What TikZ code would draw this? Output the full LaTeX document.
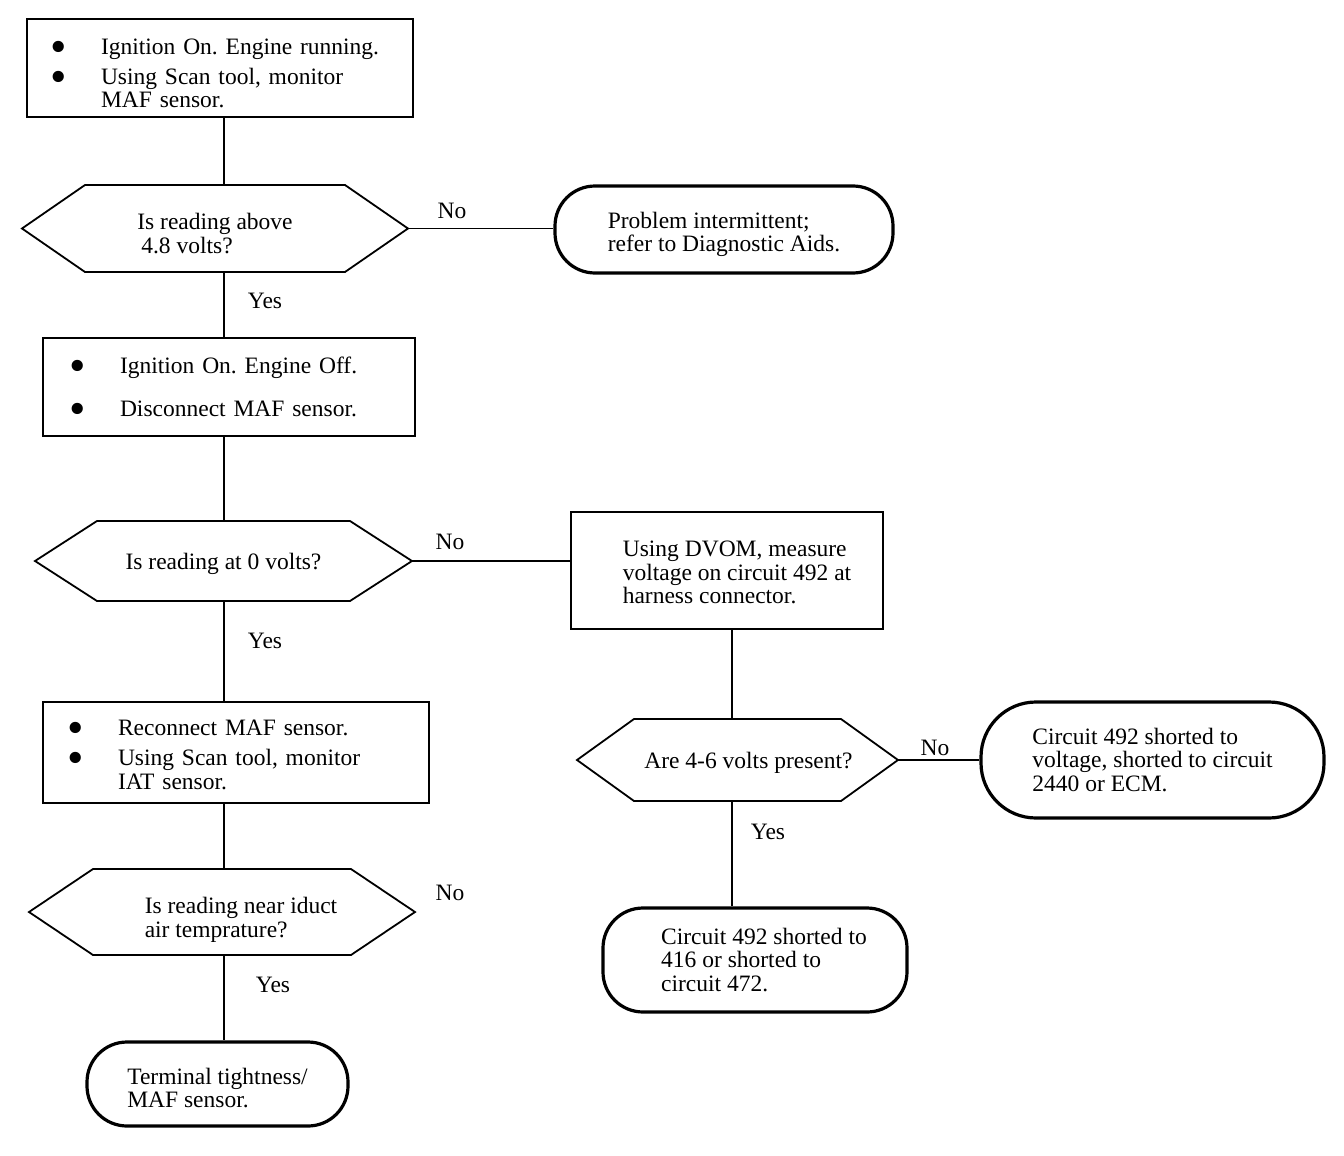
\documentclass[tikz,border=0pt]{standalone}
\usepackage{fontspec}
\setmainfont{Liberation Serif}
\usetikzlibrary{calc}

\newcommand{\blt}{\makebox[51pt][l]{\raisebox{-8pt}[0pt][0pt]{\scalebox{2}{\textbullet}}}}
\newcommand{\pushdown}[1]{\rule{0pt}{#1}}

\tikzset{
  stepbox/.style={draw, line width=1.8pt, rectangle, align=left},
  endbox/.style={draw, line width=3.2pt, rectangle, rounded corners=40pt, align=left, inner sep=0pt},
  query/.style={rectangle, align=left, inner sep=0pt, outer sep=0pt},
  hexline/.style={line width=1.8pt},
  link/.style={line width=1.5pt},
  ans/.style={inner sep=0pt},
}

\begin{document}
\frenchspacing
\begin{tikzpicture}[x=1pt,y=1pt,yscale=-1,font=\fontsize{23.5}{23.5}\selectfont]
    \useasboundingbox (0,0) rectangle (1344,1156);

    % column lines
    \coordinate (lspine) at (224,0);
    \coordinate (rspine) at (732,0);

    % Left column
    \node[stepbox, text width=340pt, inner xsep=23pt, minimum height=98pt] (run) at (220,68)
        {\blt\pushdown{26pt}Ignition On. Engine running.\\[6.5pt]\blt Using Scan tool, monitor\\\hspace*{51pt}MAF sensor.};
    \node[query, minimum width=386pt, minimum height=87pt] (above) at (215,228.5)
        {\pushdown{26pt}Is reading above\\\hspace*{4pt}4.8 volts?};
    \node[stepbox, text width=320pt, inner xsep=26pt, minimum height=98pt] (off) at (229,387)
        {\blt Ignition On. Engine Off.\\[20pt]\blt Disconnect MAF sensor.};
    \node[query, minimum width=377pt, minimum height=80pt] (zero) at (223.5,561)
        {\pushdown{22pt}Is reading at 0 volts?};
    \node[stepbox, text width=338pt, inner xsep=24pt, minimum height=101pt] (iat) at (236,752.5)
        {\blt\pushdown{20pt}Reconnect MAF sensor.\\[6.5pt]\blt Using Scan tool, monitor\\\hspace*{51pt}IAT sensor.};
    \node[query, minimum width=386pt, minimum height=86pt] (near) at (222,912)
        {\hspace*{38pt}\pushdown{32pt}Is reading near iduct\\\hspace*{38pt}air temprature?};
    \node[endbox, minimum width=261pt, minimum height=84pt] (tight) at (217.5,1084)
        {\pushdown{24pt}Terminal tightness/\\MAF sensor.};

    % Right side
    \node[endbox, minimum width=338pt, minimum height=87pt] (aids) at (724,229.5)
        {\pushdown{26pt}Problem intermittent;\\refer to Diagnostic Aids.};
    \node[stepbox, minimum width=312pt, minimum height=117pt] (dvom) at (727,570.5)
        {\hspace*{20pt}\pushdown{20pt}Using DVOM, measure\\\hspace*{20pt}voltage on circuit 492 at\\\hspace*{20pt}harness connector.};
    \node[query, minimum width=321pt, minimum height=82pt] (present) at (737.5,760)
        {\hspace*{22pt}\pushdown{22pt}Are 4-6 volts present?};
    \node[endbox, minimum width=343pt, minimum height=116pt, rounded corners=55pt] (ecm) at (1152.5,760)
        {Circuit 492 shorted to\\voltage, shorted to circuit\\2440 or ECM.};
    \node[endbox, minimum width=304pt, minimum height=104pt] (short) at (755,960)
        {\hspace*{18pt}Circuit 492 shorted to\\\hspace*{18pt}416 or shorted to\\\hspace*{18pt}circuit 472.};

    %Shape: Hexagon
    \draw[hexline] (above.west) -- ($(above.north west)+(63,0)$) -- ($(above.north east)-(63,0)$) -- (above.east) -- ($(above.south east)-(63,0)$) -- ($(above.south west)+(63,0)$) -- cycle;
    %Shape: Hexagon
    \draw[hexline] (zero.west) -- ($(zero.north west)+(62,0)$) -- ($(zero.north east)-(62,0)$) -- (zero.east) -- ($(zero.south east)-(62,0)$) -- ($(zero.south west)+(62,0)$) -- cycle;
    %Shape: Hexagon
    \draw[hexline] (present.west) -- ($(present.north west)+(57,0)$) -- ($(present.north east)-(57,0)$) -- (present.east) -- ($(present.south east)-(57,0)$) -- ($(present.south west)+(57,0)$) -- cycle;
    %Shape: Hexagon
    \draw[hexline] (near.west) -- ($(near.north west)+(64,0)$) -- ($(near.north east)-(64,0)$) -- (near.east) -- ($(near.south east)-(64,0)$) -- ($(near.south west)+(64,0)$) -- cycle;

    %Straight Lines
    \draw[link] (run.south -| lspine) -- (above.north -| lspine);
    \draw[link] (above.south -| lspine) -- (off.north -| lspine);
    \draw[link] (off.south -| lspine) -- (zero.north -| lspine);
    \draw[link] (zero.south -| lspine) -- (iat.north -| lspine);
    \draw[link] (iat.south -| lspine) -- (near.north -| lspine);
    \draw[link] (near.south -| lspine) -- (tight.north -| lspine);
    \draw[link] (above.east) -- (above.east -| aids.west);
    \draw[link] (zero.east) -- (zero.east -| dvom.west);
    \draw[link] (dvom.south -| rspine) -- (present.north -| rspine);
    \draw[link] (present.east) -- (present.east -| ecm.west);
    \draw[link] (present.south -| rspine) -- (short.north -| rspine);

    % Text Node
    \node[ans] (no1) at (452,211) {No};
    % Text Node
    \node[ans] (yes1) at (265,301) {Yes};
    % Text Node
    \node[ans] (no2) at (450,542) {No};
    % Text Node
    \node[ans] (yes2) at (265,641) {Yes};
    % Text Node
    \node[ans] (no3) at (935,748) {No};
    % Text Node
    \node[ans] (yes3) at (768,832) {Yes};
    % Text Node
    \node[ans] (no4) at (450,893) {No};
    % Text Node
    \node[ans] (yes4) at (273,985) {Yes};

\end{tikzpicture}
\end{document}
